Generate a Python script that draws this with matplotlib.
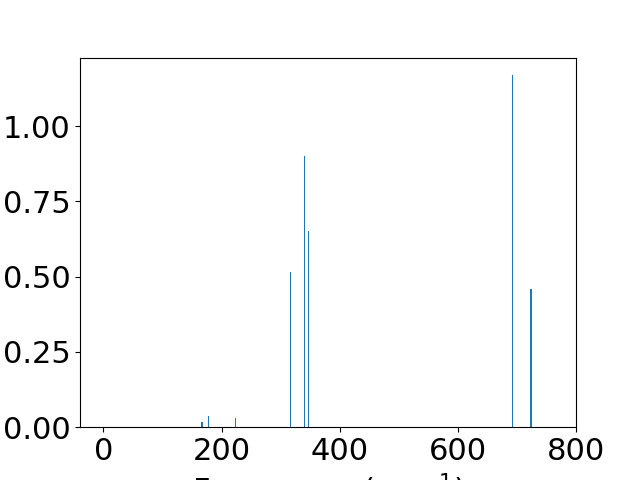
import matplotlib
matplotlib.use("Agg")
import matplotlib.pyplot as plt

frequencies = [166.0, 167.5, 177.7, 223.4, 317.0, 340.0, 347.0, 692.0, 722.5, 724.0]
intensities = [0.017, 0.017, 0.037, 0.030, 0.515, 0.900, 0.652, 1.169, 0.458, 0.458]

plt.rcParams['font.size'] = 22
fig, ax = plt.subplots(figsize=(6.4, 4.8), dpi=100)
ax.bar(frequencies, intensities, width=1.6, color='#1f77b4')
ax.set_xlim(-39.5, 800)
ax.set_xticks([0, 200, 400, 600, 800])
ax.set_yticks([0.0, 0.25, 0.5, 0.75, 1.0])
ax.set_xlabel('Frequency (cm$^{-1}$)')
fig.savefig('out.png', dpi=100)
